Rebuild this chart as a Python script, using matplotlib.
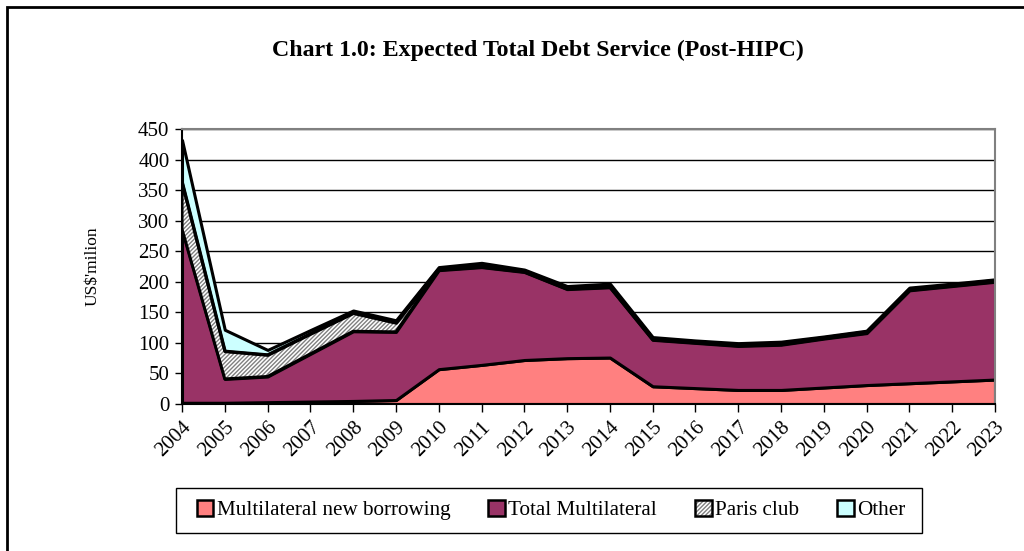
import numpy as np
import matplotlib
matplotlib.use("Agg")
import matplotlib.pyplot as plt
from matplotlib.patches import Patch, Rectangle
from matplotlib.legend_handler import HandlerTuple

plt.rcParams["font.family"] = ["Liberation Serif", "DejaVu Serif"]
plt.rcParams["hatch.linewidth"] = 1.0

years = list(range(2004, 2024))
new_borrowing = [2, 2, 3, 4, 5, 6.5, 57, 64, 72, 75, 76, 29, 26, 23, 23, 27, 31, 34, 37, 40]
total_multilateral = [284, 39, 42, 78, 114, 111.5, 162, 160, 144, 113, 115, 76, 74, 72, 74, 80, 85, 152, 156, 160]
paris_club = [77, 45.5, 35.5, 33, 30, 15, 2, 3, 2, 2.5, 3, 2, 2, 2, 2.5, 1.5, 2, 2, 2, 2]
other = [69, 35, 8, 6, 4, 4, 3, 4, 2, 2.5, 3, 2.5, 2, 2.6, 2.5, 2, 2, 2.5, 2, 2]

labels = ["Multilateral new borrowing", "Total Multilateral", "Paris club", "Other"]
colors = ["#FF8080", "#993366", "#FFFFFF", "#CCFFFF"]
hatches = [None, None, "////////", None]
hatch_col = "#808080"

fig = plt.figure(figsize=(10.24, 5.51), dpi=100)
ax = fig.add_axes([182 / 1024, 147 / 551, 813 / 1024, 275 / 551])

x = np.arange(len(years))
series = np.array([new_borrowing, total_multilateral, paris_club, other])
tops = np.cumsum(series, axis=0)
bottoms = np.vstack([np.zeros(len(years)), tops[:-1]])

for i in range(len(series)):
    if hatches[i]:
        ax.fill_between(x, bottoms[i], tops[i], facecolor=colors[i], edgecolor=hatch_col,
                        hatch=hatches[i], linewidth=0, zorder=3)
        ax.fill_between(x, bottoms[i], tops[i], facecolor="none", edgecolor="black",
                        linewidth=2.2, zorder=4)
    else:
        ax.fill_between(x, bottoms[i], tops[i], facecolor=colors[i], edgecolor="black",
                        linewidth=2.2, zorder=3)

ax.set_xlim(0, len(years) - 1)
ax.set_ylim(0, 450)
ax.set_yticks(range(0, 451, 50))
ax.set_xticks(x)
ax.set_xticklabels([str(y) for y in years], rotation=45, ha="right", rotation_mode="anchor")
ax.tick_params(axis="both", labelsize=15, direction="out", color="black", width=1)
ax.tick_params(axis="x", length=6, pad=4)
ax.tick_params(axis="y", length=5, pad=4)
ax.yaxis.grid(True, color="black", linewidth=1)
ax.set_axisbelow(True)
ax.spines["top"].set_color("#808080")
ax.spines["right"].set_color("#808080")
for s in ax.spines.values():
    s.set_linewidth(1.5)
    s.set_zorder(5)

ax.set_ylabel("US$'milion", fontsize=12.5, labelpad=27)
fig.text(538 / 1024, 1 - 50 / 551, "Chart 1.0: Expected Total Debt Service (Post-HIPC)",
         ha="center", va="center", fontsize=17.2, fontweight="bold")

handles = []
for i in range(len(labels)):
    if hatches[i]:
        handles.append((Patch(facecolor=colors[i], edgecolor=hatch_col, hatch=hatches[i], linewidth=0),
                        Patch(facecolor="none", edgecolor="black", linewidth=1.8)))
    else:
        handles.append(Patch(facecolor=colors[i], edgecolor="black", linewidth=1.8))
leg = fig.legend(handles, labels, ncol=4, loc="center",
                 bbox_to_anchor=(551 / 1024, 1 - 510 / 551), fontsize=15.2,
                 frameon=False, handlelength=0.8, handleheight=0.8, handletextpad=0.15,
                 columnspacing=1.8, handler_map={tuple: HandlerTuple(ndivide=1, pad=0)})

# legend frame
fig.patches.append(Rectangle((176 / 1024, 1 - 533 / 551), 746 / 1024, 45 / 551,
                             transform=fig.transFigure, fill=False,
                             edgecolor="black", linewidth=1.0))
# outer chart border
fig.patches.append(Rectangle((7 / 1024, -0.05), 1.1, 1 - 7 / 551 + 0.05,
                             transform=fig.transFigure, fill=False,
                             edgecolor="black", linewidth=2))

fig.savefig("out.png", dpi=100)
